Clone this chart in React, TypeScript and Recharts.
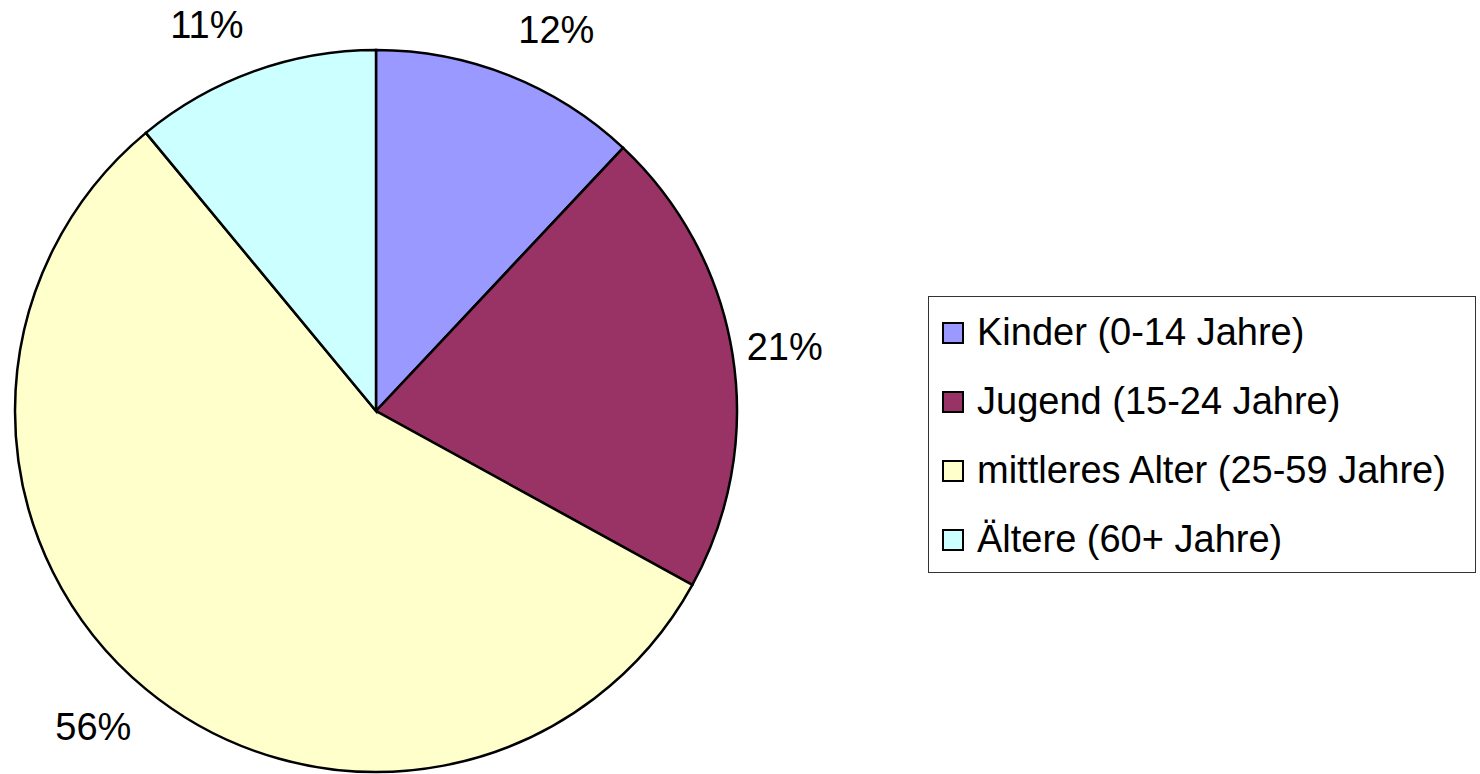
import React from 'react';
import { PieChart, Pie, Cell, Legend } from 'recharts';

const categories = [
  'Kinder (0-14 Jahre)',
  'Jugend (15-24 Jahre)',
  'mittleres Alter (25-59 Jahre)',
  'Ältere (60+ Jahre)',
];
const shares = [12, 21, 56, 11];
const COLORS = ['#9999FF', '#993366', '#FFFFCC', '#CCFFFF'];

const chartData = categories.map((name, i) => ({ name, value: shares[i] }));

const FONT = '"Liberation Sans", Arial, sans-serif';
const RADIAN = Math.PI / 180;

// Excel-like outside labels: pushed out past the rim, nudged by direction
const renderLabel = (props: any) => {
  const { cx, cy, midAngle, outerRadius, percent } = props;
  const d = outerRadius + 29;
  const dx = Math.cos(-midAngle * RADIAN);
  const dy = Math.sin(-midAngle * RADIAN);
  const w = 76;
  const x = cx + d * dx + Math.sign(dx) * (w / 2) * (0.55 + 0.45 * Math.abs(dy));
  const y = cy + d * dy + dy * 20;
  return (
    <text
      x={x}
      y={y}
      fill="#000"
      textAnchor="middle"
      dominantBaseline="central"
      fontSize={38}
      fontFamily={FONT}
    >
      {`${Math.round(percent * 100)}%`}
    </text>
  );
};

const LegendBox = (props: any) => {
  const payload = props.payload || [];
  return (
    <div
      style={{
        border: '1px solid #333',
        background: '#fff',
        width: 546,
        height: 274,
        boxSizing: 'content-box',
        paddingTop: 1,
        fontFamily: FONT,
      }}
    >
      {categories.map((name, i) => {
        const item = payload[i];
        const color = COLORS[i] || (item && item.color);
        return (
          <div
            key={name}
            style={{ display: 'flex', alignItems: 'center', height: 69, paddingLeft: 13 }}
          >
            <span
              style={{
                display: 'inline-block',
                width: 18,
                height: 18,
                background: color,
                border: '2.5px solid #000',
                marginRight: 13,
              }}
            />
            <span style={{ fontSize: 38, color: '#000', whiteSpace: 'nowrap' }}>{name}</span>
          </div>
        );
      })}
    </div>
  );
};

export default function App() {
  return (
    <div style={{ position: 'fixed', left: 0, top: 0, width: 1480, height: 774, background: '#fff' }}>
      <PieChart width={1480} height={774} margin={{ top: 0, right: 0, bottom: 0, left: 0 }}>
        <Pie
          data={chartData}
          dataKey="value"
          nameKey="name"
          cx={376}
          cy={411}
          outerRadius={361}
          startAngle={90}
          endAngle={-270}
          stroke="#000"
          strokeWidth={2.5}
          labelLine={false}
          label={renderLabel}
          isAnimationActive={false}
        >
          {chartData.map((entry, index) => (
            <Cell key={`cell-${index}`} fill={COLORS[index % COLORS.length]} />
          ))}
        </Pie>
        <Legend
          layout="vertical"
          align="right"
          verticalAlign="middle"
          content={<LegendBox />}
          wrapperStyle={{ position: 'absolute', left: 928, top: 296, width: 548, height: 276 }}
        />
      </PieChart>
    </div>
  );
}
